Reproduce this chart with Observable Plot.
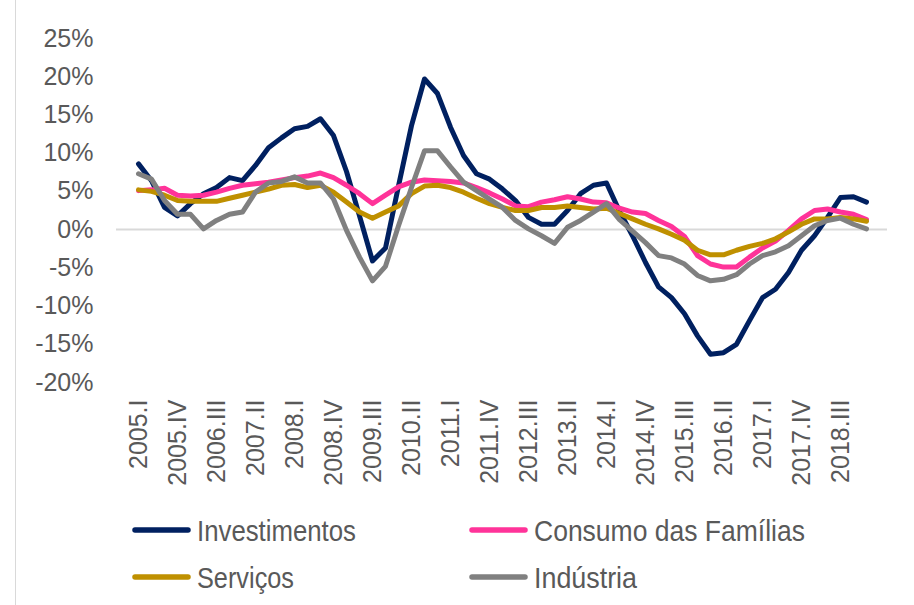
<!DOCTYPE html>
<html>
<head>
<meta charset="utf-8">
<script src="https://cdn.jsdelivr.net/npm/d3@7"></script>
<script src="https://cdn.jsdelivr.net/npm/@observablehq/plot@0.6"></script>
<style>
  html, body { margin: 0; padding: 0; background: #fff; }
  #wrap { position: relative; width: 914px; height: 605px; overflow: hidden; font-family: "Liberation Sans", Arial, sans-serif; }
  #frame { position: absolute; left: 15px; top: 0; width: 0; height: 605px; border-left: 1px solid #d9d9d9; }
  #chart { position: absolute; left: 0; top: 0; }
  #legend { position: absolute; left: 0; top: 500px; }
</style>
</head>
<body>
<div id="wrap">
  <div id="frame"></div>
  <div id="chart"></div>
  <svg id="legend" width="914" height="105"></svg>
</div>
<script>
const years = [2005, 2006, 2007, 2008, 2009, 2010, 2011, 2012, 2013, 2014, 2015, 2016, 2017, 2018, 2019];
const romans = ["I", "II", "III", "IV"];
const quarters = years.flatMap(y => romans.map(r => `${y}.${r}`)).slice(0, 57);
const xTickLabels = quarters.filter((q, i) => i % 3 === 0);
const yTicks = [-20, -15, -10, -5, 0, 5, 10, 15, 20, 25];

const seriesNames = ["Investimentos", "Consumo das Famílias", "Serviços", "Indústria"];
const seriesColors = ["#002060", "#FF3399", "#BF9000", "#808080"];

const investimentos = [8.6, 6.4, 2.9, 1.8, 3.4, 4.7, 5.5, 6.8, 6.4, 8.4, 10.7, 12.0, 13.2, 13.5, 14.5, 12.3, 7.6, 1.8, -4.1, -2.4, 5.7, 13.6, 19.7, 17.8, 13.4, 9.7, 7.3, 6.6, 5.3, 3.8, 1.6, 0.7, 0.7, 2.5, 4.7, 5.8, 6.1, 2.4, -0.8, -4.3, -7.5, -8.9, -11.0, -13.9, -16.3, -16.1, -15.0, -11.9, -8.9, -7.8, -5.6, -2.7, -0.8, 1.6, 4.2, 4.3, 3.6];
const consumo = [5.1, 5.2, 5.4, 4.5, 4.4, 4.5, 4.9, 5.4, 5.8, 6.0, 6.2, 6.5, 6.8, 7.0, 7.4, 6.8, 5.8, 4.7, 3.4, 4.5, 5.6, 6.2, 6.5, 6.4, 6.3, 6.1, 5.5, 4.8, 4.0, 3.1, 3.0, 3.6, 3.9, 4.3, 4.0, 3.6, 3.5, 2.8, 2.3, 2.1, 1.2, 0.4, -0.9, -3.4, -4.5, -4.9, -4.9, -3.6, -2.4, -1.5, -0.1, 1.4, 2.5, 2.7, 2.3, 2.0, 1.3];
const servicos = [5.2, 5.0, 4.5, 3.8, 3.7, 3.7, 3.7, 4.1, 4.5, 4.9, 5.3, 5.8, 5.9, 5.5, 5.8, 4.9, 3.6, 2.3, 1.5, 2.3, 3.1, 4.7, 5.7, 5.8, 5.5, 4.9, 4.1, 3.4, 2.9, 2.5, 2.5, 2.9, 2.9, 3.1, 2.9, 2.7, 2.8, 2.1, 1.4, 0.7, 0.1, -0.6, -1.4, -2.7, -3.3, -3.3, -2.7, -2.2, -1.8, -1.2, -0.3, 0.7, 1.4, 1.4, 1.6, 1.4, 1.1];
const industria = [7.3, 6.6, 3.8, 2.0, 2.0, 0.1, 1.2, 2.0, 2.3, 4.9, 6.1, 6.3, 6.9, 6.1, 6.1, 4.0, -0.1, -3.6, -6.7, -4.8, 0.5, 5.5, 10.3, 10.3, 8.2, 6.2, 5.1, 4.0, 2.9, 1.2, 0.1, -0.8, -1.8, 0.3, 1.2, 2.3, 3.4, 1.3, -0.2, -1.7, -3.4, -3.7, -4.5, -6.0, -6.7, -6.5, -5.9, -4.5, -3.4, -2.9, -2.1, -0.8, 0.5, 1.2, 1.5, 0.7, 0.1];

const allValues = [investimentos, consumo, servicos, industria];
const rowsFor = (k) => allValues[k].map((v, i) => ({q: quarters[i], v, s: seriesNames[k]}));

const lineMarks = seriesNames.map((name, k) =>
  Plot.line(rowsFor(k), {
    x: "q", y: "v", stroke: seriesColors[k], strokeWidth: 5,
    strokeLinejoin: "round", strokeLinecap: "round"
  })
);

const chart = Plot.plot({
  width: 914,
  height: 500,
  marginLeft: 116,
  marginRight: 27,
  marginTop: 38,
  marginBottom: 118,
  x: {type: "point", domain: quarters, padding: 0.5, label: null},
  y: {domain: [-20, 25], label: null},
  style: {fontFamily: "'Liberation Sans', Arial, sans-serif", fontSize: "25px", color: "#595959", background: "transparent", overflow: "visible"},
  marks: [
    Plot.ruleY([0], {stroke: "#d9d9d9", strokeWidth: 2}),
    Plot.axisY({ticks: yTicks, tickFormat: d => d + "%", tickSize: 0, tickPadding: 23, fontSize: 25, fill: "#595959", label: null}),
    Plot.axisX({ticks: xTickLabels, tickSize: 0, tickPadding: 17, tickRotate: -90, fontSize: 25, fill: "#595959", label: null}),
    ...lineMarks
  ]
});
document.getElementById("chart").appendChild(chart);

// Legend
const legend = d3.select("#legend");
const legendItems = [
  {k: 0, x: 133, y: 30, w: 159},
  {k: 1, x: 470, y: 30, w: 271},
  {k: 2, x: 133, y: 77, w: 97},
  {k: 3, x: 470, y: 77, w: 103}
];
legendItems.forEach(it => {
  legend.append("line")
    .attr("x1", it.x + 2).attr("x2", it.x + 55)
    .attr("y1", it.y).attr("y2", it.y)
    .attr("stroke", seriesColors[it.k]).attr("stroke-width", 5.5)
    .attr("stroke-linecap", "round");
  legend.append("text")
    .attr("x", it.x + 64).attr("y", it.y + 11)
    .attr("font-family", "'Liberation Sans', Arial, sans-serif")
    .attr("font-size", 30)
    .attr("fill", "#595959")
    .attr("textLength", it.w)
    .attr("lengthAdjust", "spacingAndGlyphs")
    .text(seriesNames[it.k]);
});
</script>
</body>
</html>
